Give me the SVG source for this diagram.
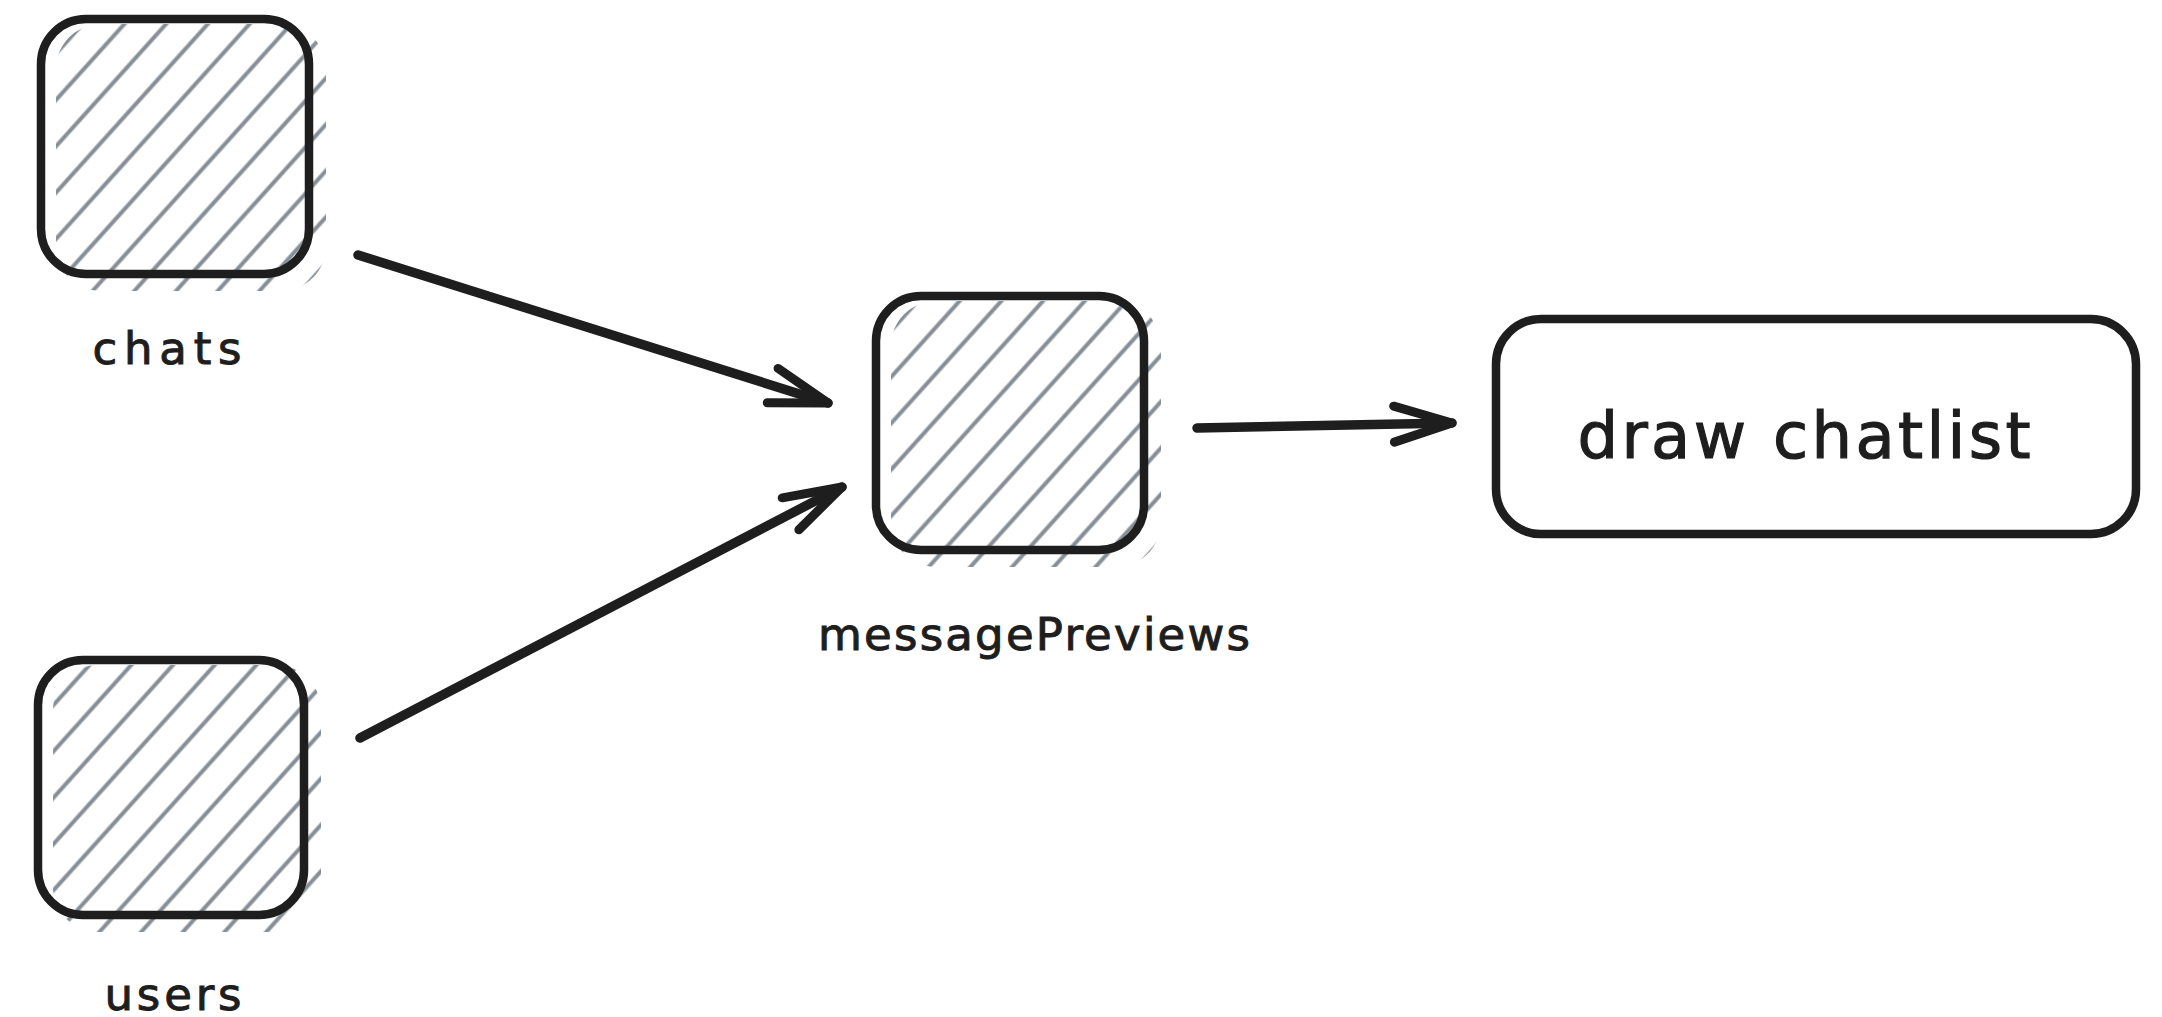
<svg xmlns="http://www.w3.org/2000/svg" width="2162" height="1017" viewBox="0 0 2162 1017">
  <defs>
    <!-- diagonal hachure used as the fill of the data nodes -->
    <pattern id="hatch" patternUnits="userSpaceOnUse" width="40" height="31" patternTransform="rotate(-48)">
      <line x1="-5" y1="15.5" x2="45" y2="15.5" stroke="#868e96" stroke-width="3.8"/>
    </pattern>
    <!-- open chevron arrowhead -->
    <marker id="head" markerUnits="userSpaceOnUse" viewBox="-70 -30 80 60" markerWidth="80" markerHeight="60" refX="0" refY="0" orient="auto" overflow="visible">
      <path d="M-58,-18 L0,0 L-58,18" fill="none" stroke="#1e1e1e" stroke-width="9" stroke-linecap="round" stroke-linejoin="round"/>
    </marker>
    <style>
      .box { fill: none; stroke: #1e1e1e; stroke-width: 8.5; }
      .fillh { fill: url(#hatch); stroke: none; }
      .label { font-family: "DejaVu Sans", "Liberation Sans", sans-serif; font-size: 45px; fill: #1e1e1e; stroke: #1e1e1e; stroke-width: 1; text-anchor: middle; }
      .title { font-family: "DejaVu Sans", "Liberation Sans", sans-serif; font-size: 64px; fill: #1e1e1e; stroke: #1e1e1e; stroke-width: 1.2; text-anchor: middle; }
      .edge { fill: none; stroke: #1e1e1e; stroke-width: 9.5; stroke-linecap: round; marker-end: url(#head); }
    </style>
  </defs>

  <rect width="2162" height="1017" fill="#ffffff"/>

  <g id="chats">
    <rect class="fillh" x="56" y="24" width="270" height="267" rx="45"/>
    <rect class="box" x="41" y="19" width="268" height="255" rx="45"/>
    <text class="label" x="167" y="364" textLength="149" lengthAdjust="spacing">chats</text>
  </g>

  <g id="users">
    <rect class="fillh" x="53" y="665" width="268" height="267" rx="45"/>
    <rect class="box" x="38" y="660" width="266" height="255" rx="45"/>
    <text class="label" x="173" y="1010" textLength="137" lengthAdjust="spacing">users</text>
  </g>

  <g id="messagePreviews">
    <rect class="fillh" x="891" y="301" width="270" height="266" rx="45"/>
    <rect class="box" x="876" y="296" width="268" height="254" rx="45"/>
    <text class="label" x="1034" y="650" textLength="432" lengthAdjust="spacing">messagePreviews</text>
  </g>

  <g id="drawChatlist">
    <rect class="box" x="1496" y="319" width="640" height="215" rx="45"/>
    <text class="title" x="1804" y="458" textLength="453" lengthAdjust="spacing">draw chatlist</text>
  </g>

  <g id="connectors">
    <path class="edge" d="M358,255 L828,403"/>
    <path class="edge" d="M360,738 L842,487"/>
    <path class="edge" d="M1197,428 L1452,423"/>
  </g>
</svg>
